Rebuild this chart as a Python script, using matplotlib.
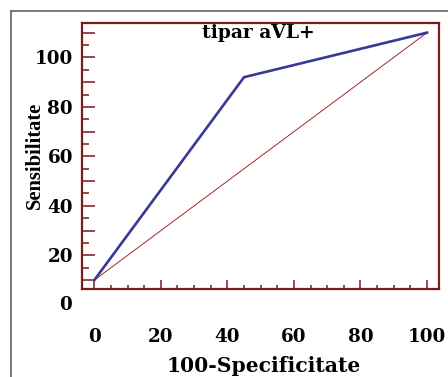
import numpy as np
import matplotlib
matplotlib.use("Agg")
import matplotlib.pyplot as plt
from matplotlib.ticker import MultipleLocator, FuncFormatter
from matplotlib.lines import Line2D

# ROC curve as drawn (axis labels in the source are offset by 10)
roc_x = [0, 45, 100]
roc_y = [10, 92, 110]
diag_x = [0, 100]
diag_y = [10, 110]

x_ticks = [0, 20, 40, 60, 80, 100]
y_labelled = [20, 40, 60, 80, 100]

title = "tipar aVL+"
x_title = "100-Specificitate"
y_title = "Sensibilitate"

SPINE = "#7a1a1a"
CURVE = "#383896"
DIAG = "#a02828"

W, H, DPI = 448, 377, 100
fig = plt.figure(figsize=(W / DPI, H / DPI), dpi=DPI)

# axes box in pixels: left 82, right 439, top 23, bottom 289
ax = fig.add_axes([82 / W, (H - 289) / H, (439 - 82) / W, (289 - 23) / H])
ax.set_xlim(-3.7, 103.6)
ax.set_ylim(6.4, 113.9)

ax.plot(diag_x, diag_y, color=DIAG, lw=0.7, solid_capstyle="butt")
ax.plot(roc_x, roc_y, color=CURVE, lw=1.9, solid_joinstyle="miter")

for s in ax.spines.values():
    s.set_color(SPINE)
    s.set_linewidth(1.6)

tick_font = dict(family="DejaVu Serif", weight="bold", size=13.2)

ax.set_xticks(x_ticks)
ax.xaxis.set_minor_locator(MultipleLocator(5))
ax.yaxis.set_major_locator(MultipleLocator(10))
ax.yaxis.set_minor_locator(MultipleLocator(5))
ax.yaxis.set_major_formatter(
    FuncFormatter(lambda v, p: f"{v:.0f}" if round(v) in y_labelled else ""))

ax.tick_params(axis="x", which="major", direction="in", length=6.5, width=1.1,
               color=SPINE, pad=28)
ax.tick_params(axis="x", which="minor", direction="in", length=3, width=1.1,
               color=SPINE)
ax.tick_params(axis="y", which="major", direction="in", length=9, width=1.1,
               color=SPINE, pad=6.5)
ax.tick_params(axis="y", which="minor", direction="in", length=5, width=1.1,
               color=SPINE)
for lab in ax.get_xticklabels() + ax.get_yticklabels():
    lab.set_fontfamily(tick_font["family"])
    lab.set_fontweight("bold")
    lab.set_fontsize(tick_font["size"])

# the "0" label of the y axis sits below the plotting box in the source
trans = ax.get_yaxis_transform()
ax.text(-0.027, 0, "0", transform=trans, ha="right", va="center",
        clip_on=False, **tick_font)

ax.text((258 - 82) / 357, (289 - 38) / 266, title, transform=ax.transAxes,
        ha="center", va="baseline", family="DejaVu Serif", weight="bold",
        size=13.5)

ax.set_xlabel(x_title, family="DejaVu Serif", weight="bold", size=14.6)
ax.xaxis.label.set_va("baseline")
ax.xaxis.set_label_coords((264 - 82) / 357, (289 - 371.5) / 266)

ax.set_ylabel(y_title, family="Liberation Serif", weight="bold", size=14.8)
ax.yaxis.set_label_coords((45 - 82) / 357, (289 - 155.5) / 266)

# grey outer frame of the exported picture
fig.add_artist(Line2D([10.5 / W, 1.0], [(H - 11) / H] * 2,
                      transform=fig.transFigure, color="#555555", lw=1.1))
fig.add_artist(Line2D([10.5 / W] * 2, [0, (H - 11) / H],
                      transform=fig.transFigure, color="#555555", lw=1.1))

fig.savefig("out.png", dpi=DPI)
